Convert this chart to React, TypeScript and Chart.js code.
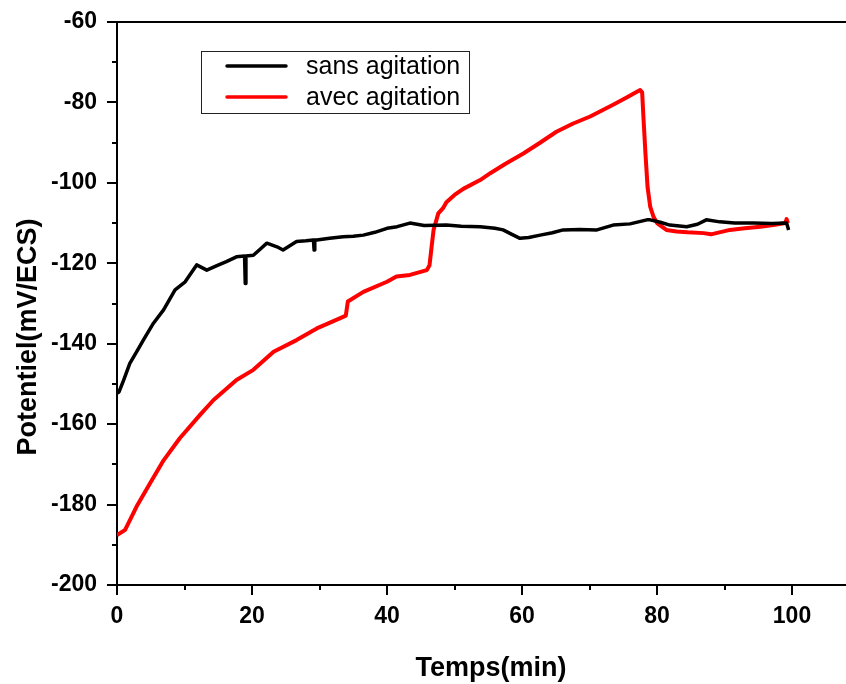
import React, { useEffect, useRef } from "react";
import { Chart, registerables } from "chart.js";

Chart.register(...registerables);

// ---- data ----
const sansTime = [
  0, 0.3, 1.0, 1.9, 2.9, 3.9, 5.4, 6.9, 8.6, 10.1, 11.8, 13.3, 14.8, 16.2, 17.7, 18.9, 19.0, 19.1,
  20.2, 21.2, 22.2, 23.7, 24.6, 26.6, 28.0, 29.1, 29.2, 29.3, 29.6, 31.5, 33.5, 35.0, 36.5, 38.2,
  40.0, 41.5, 43.4, 45.5, 48.8, 51.0, 53.8, 56.0, 57.2, 58.5, 59.7, 61.0, 62.7, 64.5, 66.1, 68.5,
  71.1, 73.5, 76.0, 78.5, 79.0, 80.5, 81.9, 84.4, 86.0, 87.3, 89.3, 91.5, 94.3, 97.0, 99.2, 99.5,
];
const sansValue = [
  -152.3, -152, -149, -144.9, -142, -139.1, -134.9, -131.6, -126.6, -124.6, -120.4, -121.7, -120.6, -119.6, -118.4, -118.2, -125, -118.2,
  -118, -116.5, -115, -115.9, -116.7, -114.6, -114.4, -114.2, -116.7, -114.2, -114.2, -113.8, -113.4, -113.3, -113, -112.3,
  -111.3, -110.9, -110, -110.6, -110.5, -110.8, -110.9, -111.3, -111.7, -112.8, -113.8, -113.6, -113, -112.4, -111.7, -111.6,
  -111.7, -110.5, -110.2, -109.2, -109.2, -109.8, -110.5, -110.9, -110.3, -109.2, -109.7, -110, -110, -110.1, -110, -111.7,
];

const avecTime = [
  0, 1.2, 2.9, 4.9, 6.9, 9.3, 12.3, 14.3, 16.3, 17.7, 20.2, 23.2, 26.6, 29.6, 33.0, 33.9, 34.2, 36.5,
  40.0, 41.4, 43.4, 45.9, 46.3, 46.6, 46.9, 47.6, 48.3, 48.8, 50.0, 51.3, 53.8, 55.3, 57.5, 60.2, 62.5,
  65.1, 67.5, 70.1, 73.5, 75.5, 77.5, 77.8, 78.0, 78.3, 78.6, 79.0, 79.5, 80.0, 81.4, 82.9, 84.5, 86.9,
  88.0, 90.8, 93.0, 95.3, 97.5, 99.0, 99.2, 99.4,
];
const avecValue = [
  -187.6, -186.3, -180.5, -174.7, -169, -163.5, -157.7, -154, -151.1, -149, -146.5, -142, -139.1, -136.2, -133.7, -133, -129.5, -127.1,
  -124.6, -123.3, -122.9, -121.7, -120.5, -116, -111.7, -107.6, -106.3, -104.8, -103, -101.5, -99.3, -97.6, -95.3, -92.7, -90.2,
  -87.3, -85.3, -83.5, -80.6, -78.8, -76.9, -77.5, -84, -93, -101, -106, -108.5, -110, -111.7, -112.1, -112.3, -112.5,
  -112.8, -111.7, -111.3, -110.9, -110.4, -110, -109, -110,
];

const seriesNames = ["sans agitation", "avec agitation"];
const seriesColors = ["#000000", "#ff0000"];
const xLabelValues = [0, 20, 40, 60, 80, 100];
const xTickValues = [0, 10, 20, 30, 40, 50, 60, 70, 80, 90, 100];
const yTickValues = [-200, -190, -180, -170, -160, -150, -140, -130, -120, -110, -100, -90, -80, -70, -60];
const xTitle = "Temps(min)";
const yTitle = "Potentiel(mV/ECS)";

const FONT = '"Liberation Sans", Arial, Helvetica, sans-serif';

const decorations = {
  id: "decorations",
  afterDraw(chart: any) {
    const { ctx, chartArea: a, scales } = chart;
    const x = scales.x;
    const y = scales.y;
    ctx.save();
    ctx.strokeStyle = "#000";
    ctx.lineWidth = 2;
    ctx.lineCap = "butt";
    // top border
    ctx.beginPath();
    ctx.moveTo(a.left - 1, a.top);
    ctx.lineTo(a.right, a.top);
    ctx.stroke();
    // x ticks (major/minor)
    xTickValues.forEach((v) => {
      const px = Math.round(x.getPixelForValue(v));
      const len = xLabelValues.includes(v) ? 10 : 5;
      ctx.beginPath();
      ctx.moveTo(px, a.bottom);
      ctx.lineTo(px, a.bottom + len);
      ctx.stroke();
    });
    // y ticks
    yTickValues.forEach((v) => {
      const py = Math.round(y.getPixelForValue(v));
      const len = v % 20 === 0 ? 10 : 5;
      ctx.beginPath();
      ctx.moveTo(a.left, py);
      ctx.lineTo(a.left - len, py);
      ctx.stroke();
    });

    // legend
    ctx.lineWidth = 1;
    ctx.strokeStyle = "#222";
    ctx.strokeRect(201.5, 51.5, 268, 62);
    const rows = [66, 97];
    chart.data.datasets.forEach((ds: any, i: number) => {
      ctx.strokeStyle = ds.borderColor;
      ctx.lineWidth = 3.5;
      ctx.lineCap = "round";
      ctx.beginPath();
      ctx.moveTo(227, rows[i]);
      ctx.lineTo(286, rows[i]);
      ctx.stroke();
      ctx.fillStyle = "#000";
      ctx.font = `25px ${FONT}`;
      ctx.textAlign = "left";
      ctx.textBaseline = "middle";
      ctx.fillText(ds.label, 306, rows[i] + 1);
    });

    // axis titles
    ctx.fillStyle = "#000";
    ctx.font = `bold 27px ${FONT}`;
    ctx.textAlign = "center";
    ctx.textBaseline = "alphabetic";
    ctx.fillText(xTitle, 491, 676);
    ctx.save();
    ctx.translate(36, 337);
    ctx.rotate(-Math.PI / 2);
    ctx.fillText(yTitle, 0, 0);
    ctx.restore();

    ctx.restore();
  },
};

export default function App() {
  const ref = useRef<HTMLCanvasElement | null>(null);

  useEffect(() => {
    if (!ref.current) return;
    const chart = new Chart(ref.current, {
      type: "line",
      data: {
        datasets: [
          {
            label: seriesNames[0],
            data: sansTime.map((t, i) => ({ x: t, y: sansValue[i] })),
            borderColor: seriesColors[0],
            backgroundColor: seriesColors[0],
            borderWidth: 3.5,
            pointRadius: 0,
            tension: 0,
            borderJoinStyle: "round",
          },
          {
            label: seriesNames[1],
            data: avecTime.map((t, i) => ({ x: t, y: avecValue[i] })),
            borderColor: seriesColors[1],
            backgroundColor: seriesColors[1],
            borderWidth: 4,
            pointRadius: 0,
            tension: 0,
            borderJoinStyle: "round",
          },
        ],
      },
      options: {
        animation: false,
        responsive: false,
        devicePixelRatio: 1,
        layout: { padding: { top: 22, right: 0, left: 0, bottom: 0 } },
        plugins: {
          legend: { display: false },
          tooltip: { enabled: false },
        },
        scales: {
          x: {
            type: "linear",
            min: 0,
            max: 108,
            afterFit: (s: any) => {
              s.height = 99;
              s.paddingLeft = 0;
              s.paddingRight = 0;
              s.paddingTop = 0;
              s.paddingBottom = 0;
            },
            afterBuildTicks: (s: any) => {
              s.ticks = xLabelValues.map((v) => ({ value: v }));
            },
            grid: { display: false, drawTicks: false },
            border: { display: true, color: "#000", width: 2 },
            ticks: {
              padding: 18,
              color: "#000",
              font: { family: FONT, size: 23, weight: "bold" },
              maxRotation: 0,
            },
          },
          y: {
            type: "linear",
            min: -200,
            max: -60,
            afterFit: (s: any) => {
              s.width = 117;
              s.paddingLeft = 0;
              s.paddingRight = 0;
              s.paddingTop = 0;
              s.paddingBottom = 0;
            },
            afterBuildTicks: (s: any) => {
              s.ticks = yTickValues.filter((v) => v % 20 === 0).map((v) => ({ value: v }));
            },
            grid: { display: false, drawTicks: false },
            border: { display: true, color: "#000", width: 2 },
            ticks: {
              padding: 20,
              color: "#000",
              font: { family: FONT, size: 23, weight: "bold" },
            },
          },
        },
      },
      plugins: [decorations],
    });
    return () => chart.destroy();
  }, []);

  return (
    <div style={{ position: "fixed", left: 0, top: 0, width: 846, height: 684, background: "#fff" }}>
      <canvas ref={ref} width={846} height={684} style={{ display: "block", width: 846, height: 684 }} />
    </div>
  );
}
